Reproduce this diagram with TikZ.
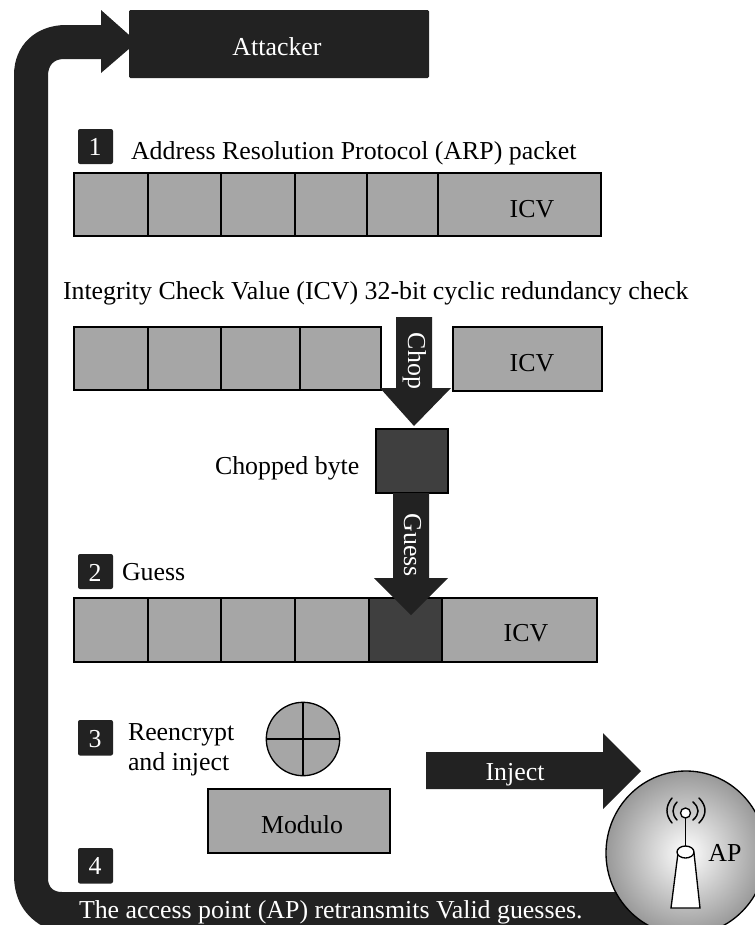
\documentclass[tikz,border=0pt]{standalone}
\usepackage{fontspec}
\setmainfont{Liberation Serif}
\definecolor{ink}{HTML}{222222}
\definecolor{cellgray}{HTML}{A6A6A6}
\definecolor{cellblack}{HTML}{3F3F3F}
\tikzset{
  x=0.75pt,y=-0.75pt,
  every node/.style={font=\fontsize{19.4}{23}\selectfont,inner sep=0pt,outer sep=0pt},
  cell/.style={draw=black,line width=1pt,fill=cellgray},
  dcell/.style={draw=black,line width=1pt,fill=cellblack},
  light/.style={text=white},
  badge/.style={fill=ink,rounded corners=1.5pt},
  tx/.style={anchor=base west},
  cx/.style={anchor=base},
}
\newcommand{\cellbox}[5][cell]{\draw[#1] (#2,#3) rectangle (#4,#5);}
\begin{document}
\begin{tikzpicture}
\useasboundingbox (0,0) rectangle (755,925);
\begin{scope}
\clip (0,0) rectangle (755,925);
% feedback arrow
\fill[ink] (660,892) -- (62,892) .. controls (53,892) and (48,887) .. (48,878)
  -- (48,76) .. controls (48,66) and (53,59) .. (64,59) -- (101,59) -- (101,73) -- (137,42) -- (101,10) -- (101,25) -- (66,25)
  .. controls (36,25) and (14,45) .. (14,75) -- (14,875) .. controls (14,903) and (28,920) .. (50,930) -- (660,930) -- cycle;
\node[light,tx] (retx) at (79,918) {The access point (AP) retransmits Valid guesses.};
% attacker
\fill[ink,rounded corners=1pt] (129,10) rectangle (429,78);
\node[light,cx] (attackerlabel) at (277,55) {Attacker};
% row 1
\fill[badge] (78,129) rectangle (113,164);
\node[light,cx] (b1) at (95,155) {1};
\node[tx] (t1) at (131,159) {Address Resolution Protocol (ARP) packet};
\cellbox{74}{173}{148}{236}
\cellbox{148}{173}{221}{236}
\cellbox{221}{173}{295}{236}
\cellbox{295}{173}{367}{236}
\cellbox{367}{173}{438}{236}
\cellbox{438}{173}{601}{236}
\node[cx] (icv1) at (532,217) {ICV};
\node[tx] (t2) at (63,299) {Integrity Check Value (ICV) 32-bit cyclic redundancy check};
% row 2
\cellbox{74}{327}{148}{390}
\cellbox{148}{327}{221}{390}
\cellbox{221}{327}{300}{390}
\cellbox{300}{327}{381}{390}
\cellbox{453}{327}{602}{391}
\node[cx] (icv2) at (532,371) {ICV};
% chop arrow
\fill[ink] (396,317) -- (432,317) -- (432,388) -- (451,388) -- (414,426) -- (380,388) -- (396,388) -- cycle;
\node[light,rotate=-90,anchor=base] (chop) at (408,361) {Chop};
% chopped
\node[tx] (t3) at (215,474) {Chopped byte};
\cellbox[dcell]{376}{429}{448}{493}
% row 3
\fill[badge] (78,554) rectangle (113,589);
\node[light,cx] (b2) at (95,581) {2};
\node[tx] (t4) at (122,580) {Guess};
\cellbox{74}{598}{148}{662}
\cellbox{148}{598}{221}{662}
\cellbox{221}{598}{295}{662}
\cellbox{295}{598}{369}{662}
\cellbox[dcell]{369}{598}{442}{662}
\cellbox{442}{598}{597}{662}
\node[cx] (icv3) at (526,641) {ICV};
% guess arrow
\fill[ink] (393,493) -- (429,493) -- (429,578) -- (448,578) -- (411,615) -- (374,578) -- (393,578) -- cycle;
\node[light,rotate=-90,anchor=base] (guess) at (404,545) {Guess};
% step 3
\fill[badge] (78,720) rectangle (113,755.5);
\node[light,cx] (b3) at (95,747) {3};
\node[tx] (t5a) at (128,740) {Reencrypt};
\node[tx] (t5b) at (128,770) {and inject};
\draw[cell] (303,739) circle (36.7);
\draw[line width=1pt] (266.3,739) -- (339.7,739) (303,702.3) -- (303,775.7);
\draw[cell] (208,789) rectangle (390,853);
\node[cx] (modulolabel) at (302,833) {Modulo};
\fill[badge] (78,848) rectangle (113,883.5);
\node[light,cx] (b4) at (95,874) {4};
% inject
\fill[ink] (426,752) -- (603,752) -- (603,733) -- (641,771) -- (603,809) -- (603,789) -- (426,789) -- cycle;
\node[light,cx] (inject) at (515,780) {Inject};
% AP
\shade[inner color=white,outer color=black!40] (686,853) ellipse (80 and 82);
\draw[line width=1pt] (686,853) ellipse (80 and 82);
\draw[line width=1pt,fill=white] (678,853) -- (671,908) -- (700,908) -- (694,853) -- cycle;
\draw[line width=1pt,fill=white] (685.5,852) ellipse (8.5 and 6);
\draw[line width=1.2pt] (685.5,846) -- (685.5,818);
\draw[line width=1pt,fill=white] (685.5,813) circle (5);
\draw[line width=1.1pt,line cap=round] (672,798) .. controls (665.3,806) and (665.3,815) .. (672,823)
  (677,802) .. controls (671.7,808) and (671.7,814) .. (677,820)
  (699,798) .. controls (707,806) and (707,815) .. (699,823)
  (693,802) .. controls (699.7,808) and (699.7,814) .. (693,820);
\node[cx] (ap) at (725,861) {AP};
\end{scope}
\end{tikzpicture}
\end{document}
